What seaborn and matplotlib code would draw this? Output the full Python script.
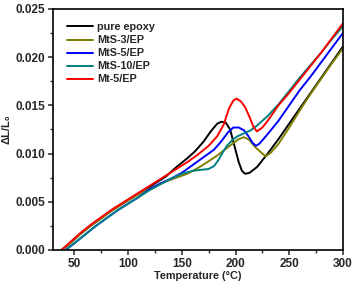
import numpy as np
import pandas as pd
import matplotlib
matplotlib.use("Agg")
import matplotlib.pyplot as plt
import seaborn as sns
from matplotlib.ticker import MultipleLocator

t_epoxy = [38, 45, 55, 65, 75, 85, 95, 105, 115, 125, 135, 145, 155, 162, 170, 177, 183, 187,
           191, 195, 199, 203, 206, 209, 213, 220, 230, 240, 250, 260, 270, 280, 290, 300]
v_epoxy = [0, 0.0006, 0.0016, 0.0025, 0.0033, 0.0041, 0.0048, 0.0055, 0.0062, 0.0069, 0.0076,
           0.0086, 0.0095, 0.0102, 0.0112, 0.0123, 0.0131, 0.0133, 0.0132, 0.0125, 0.0108,
           0.0091, 0.0082, 0.0079, 0.0080, 0.0086, 0.0100, 0.0115, 0.0131, 0.0147, 0.0163,
           0.0179, 0.0195, 0.0211]

t_mts3 = [38, 45, 55, 65, 75, 85, 95, 105, 115, 125, 135, 145, 155, 165, 175, 183, 190, 197,
          203, 208, 213, 218, 223, 228, 233, 240, 250, 260, 270, 280, 290, 300]
v_mts3 = [0, 0.0006, 0.0016, 0.0025, 0.0033, 0.0041, 0.0048, 0.0055, 0.0061, 0.0066, 0.0071,
          0.0075, 0.0079, 0.0085, 0.0092, 0.0098, 0.0104, 0.0110, 0.0115, 0.0117, 0.0114,
          0.0107, 0.0102, 0.0097, 0.0101, 0.0110, 0.0127, 0.0145, 0.0162, 0.0178, 0.0194,
          0.0209]

t_mts5 = [42, 50, 60, 70, 80, 90, 100, 110, 120, 130, 140, 150, 160, 170, 180, 187, 193, 198,
          203, 208, 212, 216, 219, 222, 226, 232, 240, 250, 260, 270, 280, 290, 300]
v_mts5 = [0, 0.0007, 0.0016, 0.0025, 0.0033, 0.0041, 0.0048, 0.0055, 0.0063, 0.0069, 0.0074,
          0.0080, 0.0088, 0.0096, 0.0104, 0.0113, 0.0122, 0.0127, 0.0127, 0.0124, 0.0118,
          0.0111, 0.0108, 0.0110, 0.0115, 0.0123, 0.0134, 0.0150, 0.0166, 0.0180, 0.0195,
          0.0210, 0.0225]

t_mts10 = [42, 50, 60, 70, 80, 90, 100, 110, 120, 130, 140, 150, 160, 167, 175, 180, 184, 188,
           192, 197, 202, 208, 214, 220, 230, 240, 250, 260, 270, 280, 290, 300]
v_mts10 = [0, 0.0007, 0.0016, 0.0025, 0.0033, 0.0041, 0.0048, 0.0055, 0.0062, 0.0068, 0.0074,
           0.0079, 0.0082, 0.0083, 0.0084, 0.0087, 0.0093, 0.0101, 0.0108, 0.0114, 0.0118,
           0.0121, 0.0124, 0.0129, 0.0139, 0.0151, 0.0165, 0.0179, 0.0192, 0.0205, 0.0219,
           0.0232]

t_mt5 = [38, 45, 55, 65, 75, 85, 95, 105, 115, 125, 135, 145, 155, 165, 175, 183, 189, 194,
         198, 201, 205, 209, 213, 217, 220, 225, 230, 240, 250, 260, 270, 280, 290, 300]
v_mt5 = [0, 0.0007, 0.0017, 0.0026, 0.0034, 0.0042, 0.0049, 0.0056, 0.0063, 0.0070, 0.0077,
         0.0084, 0.0091, 0.0099, 0.0108, 0.0118, 0.0130, 0.0147, 0.0155, 0.0157, 0.0154,
         0.0148, 0.0138, 0.0127, 0.0123, 0.0127, 0.0134, 0.0150, 0.0163, 0.0177, 0.0191,
         0.0205, 0.0220, 0.0235]

labels = ["pure epoxy", "MtS-3/EP", "MtS-5/EP", "MtS-10/EP", "Mt-5/EP"]
colors = ["#000000", "#808000", "#0000ff", "#008080", "#ff0000"]

frames = []
for name, t, v in zip(labels,
                      [t_epoxy, t_mts3, t_mts5, t_mts10, t_mt5],
                      [v_epoxy, v_mts3, v_mts5, v_mts10, v_mt5]):
    frames.append(pd.DataFrame({"T": t, "dL": v, "sample": name}))
df = pd.concat(frames, ignore_index=True)

sns.set_style("ticks")
plt.rcParams["font.family"] = ["Liberation Sans", "DejaVu Sans"]
plt.rcParams["font.weight"] = "bold"

fig = plt.figure(figsize=(3.55, 2.87), dpi=100)
ax = fig.add_axes([0.149, 0.129, 0.817, 0.840])

sns.lineplot(data=df, x="T", y="dL", hue="sample", hue_order=labels,
             palette=colors, estimator=None, sort=False, linewidth=1.4, ax=ax)

ax.set_xlim(30, 300)
ax.set_ylim(0, 0.025)
ax.xaxis.set_major_locator(MultipleLocator(50))
ax.xaxis.set_minor_locator(MultipleLocator(25))
ax.yaxis.set_major_locator(MultipleLocator(0.005))
ax.yaxis.set_minor_locator(MultipleLocator(0.0025))
ax.yaxis.set_major_formatter(matplotlib.ticker.FormatStrFormatter("%.3f"))

for s in ax.spines.values():
    s.set_visible(True)
    s.set_linewidth(1.2)
    s.set_color("black")
ax.tick_params(which="major", direction="out", length=3.5, width=1.1,
               labelsize=8.5, pad=2, top=False, right=False)
ax.tick_params(which="minor", direction="out", length=2, width=1.0, top=False, right=False)
for lab in ax.get_xticklabels() + ax.get_yticklabels():
    lab.set_fontweight("bold")

ax.set_xlabel("Temperature (°C)", fontsize=7.8, fontweight="bold", labelpad=1)
ax.set_ylabel("ΔL/L₀", fontsize=8, fontweight="bold", labelpad=3)

leg = ax.legend(loc="upper left", bbox_to_anchor=(0.015, 0.985), frameon=False,
                fontsize=7.8, handlelength=2.4, handletextpad=0.35, labelspacing=0.28)
for txt in leg.get_texts():
    txt.set_fontweight("bold")

fig.savefig("out.png", dpi=100)
